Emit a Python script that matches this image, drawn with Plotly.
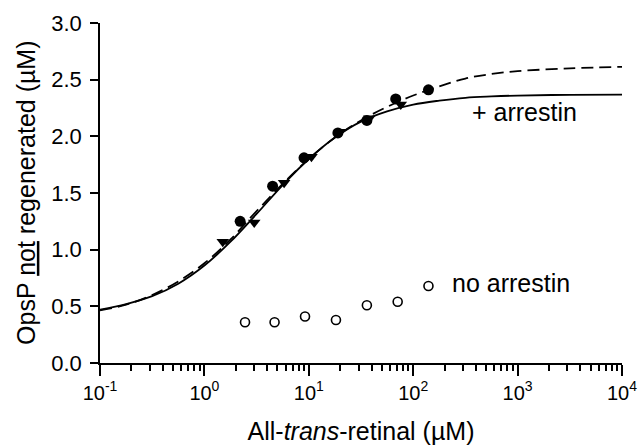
import plotly.graph_objects as go

# Data
arr_circ_x = [2.2, 4.5, 9.0, 19, 36, 68, 140]
arr_circ_y = [1.25, 1.56, 1.81, 2.03, 2.14, 2.33, 2.41]

arr_tri_x = [1.5, 3.0, 5.8, 10.6, 20, 38, 76]
arr_tri_y = [1.07, 1.24, 1.59, 1.82, 2.04, 2.16, 2.28]

noarr_x = [2.45, 4.7, 9.2, 18.2, 36, 71, 140]
noarr_y = [0.36, 0.36, 0.41, 0.38, 0.51, 0.54, 0.68]

# Fitted curves, sampled along the picture
curve_x = [0.1, 0.178, 0.316, 0.562, 1, 1.78, 3.16, 5.62, 10, 17.8, 31.6, 56.2,
           100, 178, 316, 562, 1000, 3162, 10000]
solid_y = [0.47, 0.52, 0.59, 0.70, 0.86, 1.07, 1.315, 1.57, 1.80, 1.99, 2.13, 2.22,
           2.28, 2.315, 2.34, 2.352, 2.36, 2.366, 2.368]
dashed_y = [0.465, 0.515, 0.60, 0.72, 0.88, 1.09, 1.34, 1.58, 1.80, 1.99, 2.14, 2.26,
            2.36, 2.44, 2.51, 2.55, 2.575, 2.60, 2.613]

x_tickvals = [0.1, 1, 10, 100, 1000, 10000]
x_ticktext = ["10<sup>-1</sup>", "10<sup>0</sup>", "10<sup>1</sup>",
              "10<sup>2</sup>", "10<sup>3</sup>", "10<sup>4</sup>"]
y_tickvals = [0.0, 0.5, 1.0, 1.5, 2.0, 2.5, 3.0]

minor_vals = [m * 10 ** e for e in range(-1, 4) for m in range(2, 10)]

FONT = "Liberation Sans, Arial, sans-serif"

fig = go.Figure()
fig.add_trace(go.Scatter(x=curve_x, y=dashed_y, mode="lines", line_shape="spline",
                         line=dict(color="black", width=1.8, dash="12px,6px"),
                         showlegend=False, hoverinfo="skip"))
fig.add_trace(go.Scatter(x=curve_x, y=solid_y, mode="lines", line_shape="spline",
                         line=dict(color="black", width=1.8),
                         showlegend=False, hoverinfo="skip"))
fig.add_trace(go.Scatter(x=arr_tri_x, y=arr_tri_y, mode="markers",
                         marker=dict(symbol="triangle-down", size=11, color="black"),
                         showlegend=False))
fig.add_trace(go.Scatter(x=arr_circ_x, y=arr_circ_y, mode="markers",
                         marker=dict(symbol="circle", size=11, color="black"),
                         showlegend=False))
fig.add_trace(go.Scatter(x=noarr_x, y=noarr_y, mode="markers",
                         marker=dict(symbol="circle", size=9, color="white",
                                     line=dict(color="black", width=1.6)),
                         showlegend=False))

fig.add_annotation(x=2.544, y=2.214, xref="x", yref="y", text="+ arrestin",
                   showarrow=False, xanchor="left", yanchor="middle",
                   font=dict(size=25, color="black", family=FONT))
fig.add_annotation(x=2.352, y=0.705, xref="x", yref="y", text="no arrestin",
                   showarrow=False, xanchor="left", yanchor="middle",
                   font=dict(size=25, color="black", family=FONT))
# y-axis title placed as a rotated annotation left of the tick labels
fig.add_annotation(x=-0.142, y=0.5, xref="paper", yref="paper",
                   text="OpsP <u>not</u> regenerated (µM)", textangle=-90,
                   showarrow=False, xanchor="center", yanchor="middle",
                   font=dict(size=25, color="black", family=FONT))

fig.update_layout(
    width=639, height=448,
    margin=dict(l=100, r=17, t=23, b=85),
    paper_bgcolor="white", plot_bgcolor="white",
    font=dict(family=FONT, color="black"),
    xaxis=dict(type="log", range=[-1, 4], tickvals=x_tickvals, ticktext=x_ticktext,
               automargin=False,
               ticks="outside", ticklen=11, tickwidth=1.5, tickcolor="black",
               showline=True, linecolor="black", linewidth=1.5,
               showgrid=False, zeroline=False,
               tickfont=dict(size=20, family=FONT),
               minor=dict(tickvals=minor_vals, ticks="outside", ticklen=6,
                          tickwidth=1.5, tickcolor="black", showgrid=False),
               title=dict(text="All-<i>trans</i>-retinal (µM)",
                          font=dict(size=25, family=FONT), standoff=20)),
    yaxis=dict(range=[0, 3], tickvals=y_tickvals, tickformat=".1f",
               automargin=False,
               ticks="outside", ticklen=8, tickwidth=1.5, tickcolor="black",
               showline=True, linecolor="black", linewidth=1.5,
               showgrid=False, zeroline=False,
               ticklabelstandoff=4,
               tickfont=dict(size=22, family=FONT)),
)

# remove the browser's default 8px body margin so the figure fills the window
fig.write_html("out.html", config={"displayModeBar": False},
               post_script="document.body.style.margin='0';document.body.style.overflow='hidden';")
